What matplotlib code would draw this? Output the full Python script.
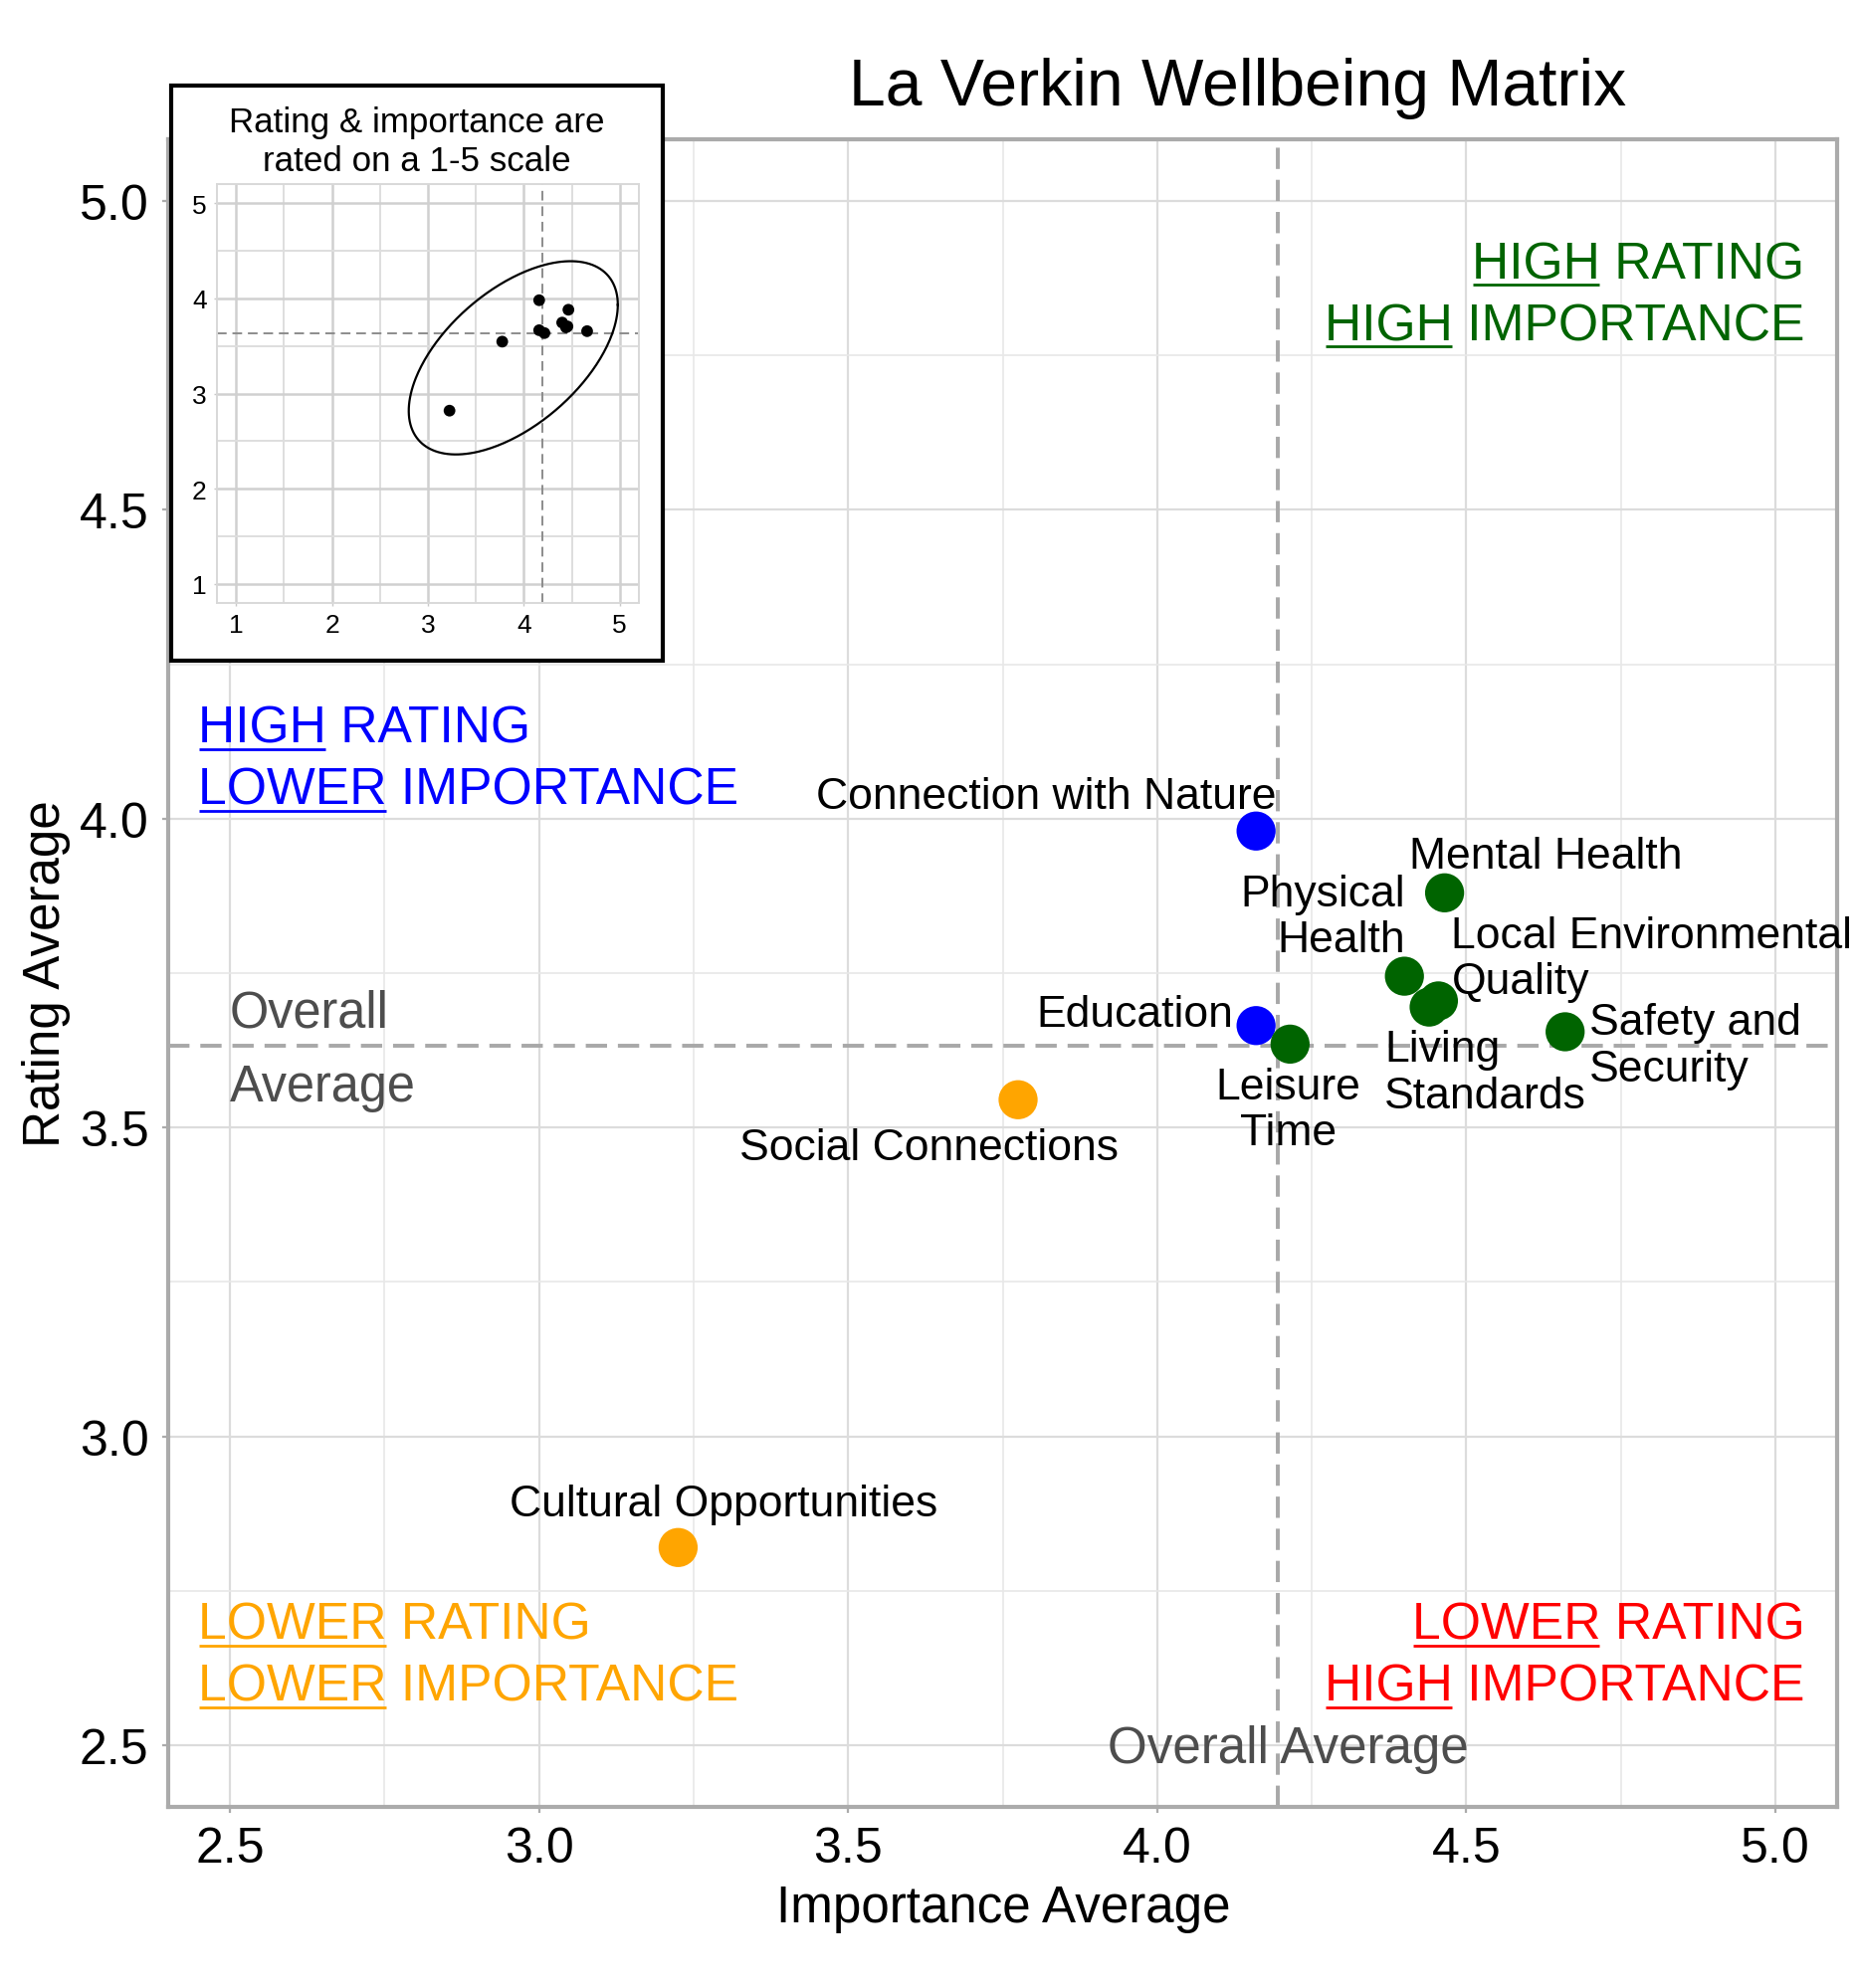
import numpy as np
import matplotlib
matplotlib.use("Agg")
import matplotlib.pyplot as plt
from matplotlib.patches import Rectangle
from matplotlib.ticker import MultipleLocator, FormatStrFormatter

plt.rcParams['font.family'] = ['Liberation Sans', 'DejaVu Sans']

# ---------------- data ----------------
categories = ["Connection with Nature", "Mental Health", "Physical\nHealth",
              "Local Environmental\nQuality", "Living\nStandards", "Education",
              "Leisure\nTime", "Safety and\nSecurity", "Social Connections",
              "Cultural Opportunities"]
importance = [4.16, 4.465, 4.40, 4.455, 4.44, 4.16, 4.215, 4.66, 3.775, 3.225]
rating = [3.98, 3.88, 3.745, 3.705, 3.695, 3.665, 3.635, 3.655, 3.545, 2.82]

main_ticks = [2.5, 3.0, 3.5, 4.0, 4.5, 5.0]
inset_ticks = [1, 2, 3, 4, 5]

# ellipse (centre and shape matrix, data units)
ellipse_center = [3.89, 3.375]
ellipse_shape = [[1.188, 0.607], [0.607, 1.030]]

quad_colors = {"HH": "#006400", "HL": "#0000FF", "LL": "#FFA500", "LH": "#FF0000"}

# ---------------- figure ----------------
W, H, DPI = 1866, 1999, 200
fig = plt.figure(figsize=(W / DPI, H / DPI), dpi=DPI)
fig.patch.set_facecolor("white")

x = np.array(importance)
y = np.array(rating)
avg_x = x.mean()
avg_y = y.mean()

def quad(xi, yi):
    return ("H" if yi >= avg_y else "L") + ("H" if xi >= avg_x else "L")

colors = [quad_colors[quad(a, b)] for a, b in zip(x, y)]

ax = fig.add_axes([169 / W, 1 - 1817 / H, (1846 - 169) / W, (1817 - 141) / H])
ax.set_xlim(2.4, 5.1)
ax.set_ylim(2.4, 5.1)
ax.set_xticks(main_ticks)
ax.set_yticks(main_ticks)
ax.xaxis.set_minor_locator(MultipleLocator(0.25))
ax.yaxis.set_minor_locator(MultipleLocator(0.25))
ax.xaxis.set_major_formatter(FormatStrFormatter("%.1f"))
ax.yaxis.set_major_formatter(FormatStrFormatter("%.1f"))
ax.grid(which="major", color="#DCDCDC", lw=0.8)
ax.grid(which="minor", color="#E8E8E8", lw=0.6)
ax.set_axisbelow(True)
for s in ax.spines.values():
    s.set_color("#ABABAB")
    s.set_linewidth(1.5)
ax.tick_params(which="major", length=2, width=0.8, color="#ABABAB",
               labelsize=18, pad=5, labelcolor="black")
ax.tick_params(which="minor", length=0)

dash_kw = dict(color="#A8A8A8", lw=1.4, dashes=(5.5, 2.8))
ax.axvline(avg_x, **dash_kw, zorder=1.5)
ax.axhline(avg_y, **dash_kw, zorder=1.5)

ax.scatter(x, y, s=200, c=colors, edgecolors="none", zorder=3)

# label placement (offsets in points, alignment)
label_layout = [
    ((-76, 12.6), "center"),
    ((36.7, 13.4), "center"),
    ((0.4, 21.5), "right"),
    ((4.7, 15.3), "left"),
    ((-16.2, -23.7), "left"),
    ((-8.3, 4.0), "right"),
    ((-0.7, -23.8), "center"),
    ((8.6, -5.0), "left"),
    ((-32.4, -17.4), "center"),
    ((16.6, 15.6), "center"),
]
for lab, xi, yi, (off, ha) in zip(categories, x, y, label_layout):
    ax.annotate(lab, xy=(xi, yi), xytext=off, textcoords="offset points",
                ha=ha, va="center", multialignment=ha, fontsize=16,
                linespacing=1.18, color="black", zorder=4)

# overall average texts
grey_txt = "#4D4D4D"
ax.text(2.5, avg_y + 0.031, "Overall", ha="left", va="baseline",
        fontsize=18.2, color=grey_txt)
ax.text(2.5, avg_y - 0.089, "Average", ha="left", va="baseline",
        fontsize=18.2, color=grey_txt)
ax.text(avg_x + 0.017, 2.472, "Overall Average", ha="center", va="baseline",
        fontsize=18.4, color=grey_txt)

# quadrant labels with underlined first word
fig.canvas.draw()
renderer = fig.canvas.get_renderer()
QFS = 18.6
quad_lines = [
    ("HIGH", "RATING", 5.0475, 4.876, "right", quad_colors["HH"]),
    ("HIGH", "IMPORTANCE", 5.0475, 4.776, "right", quad_colors["HH"]),
    ("HIGH", "RATING", 2.449, 4.124, "left", quad_colors["HL"]),
    ("LOWER", "IMPORTANCE", 2.449, 4.024, "left", quad_colors["HL"]),
    ("LOWER", "RATING", 2.449, 2.673, "left", quad_colors["LL"]),
    ("LOWER", "IMPORTANCE", 2.449, 2.573, "left", quad_colors["LL"]),
    ("LOWER", "RATING", 5.0475, 2.673, "right", quad_colors["LH"]),
    ("HIGH", "IMPORTANCE", 5.0475, 2.573, "right", quad_colors["LH"]),
]
for w1, rest, qx, qy, ha, col in quad_lines:
    t = ax.text(qx, qy, f"{w1} {rest}", ha=ha, va="baseline", fontsize=QFS,
                color=col, zorder=4)
    bb = t.get_window_extent(renderer)
    tw = ax.text(qx, qy, w1, ha="left", va="baseline", fontsize=QFS)
    wbb = tw.get_window_extent(renderer)
    tw.remove()
    base_px = ax.transData.transform((qx, qy))[1]
    ypx = base_px - 7
    inv = ax.transData.inverted()
    p0 = inv.transform((bb.x0 + 1, ypx))
    p1 = inv.transform((bb.x0 + wbb.width - 1, ypx))
    ax.plot([p0[0], p1[0]], [p0[1], p1[1]], color=col, lw=1.0,
            solid_capstyle="butt", clip_on=False, zorder=4)

# titles
fig.text(1244 / W, 1 - 106 / H, "La Verkin Wellbeing Matrix", ha="center",
         va="baseline", fontsize=23.8, color="black")
fig.text(1008 / W, 1 - 1932 / H, "Importance Average", ha="center",
         va="baseline", fontsize=18.4, color="black")
fig.text(60 / W, 1 - 979 / H, "Rating Average", ha="center", va="baseline",
         rotation=90, rotation_mode="anchor", fontsize=18.4, color="black")

# ---------------- inset ----------------
box = Rectangle((172 / W, 1 - 665 / H), 494 / W, 578 / H, transform=fig.transFigure,
                facecolor="white", edgecolor="black", lw=1.5, zorder=5)
fig.patches.append(box)

fig.text(419 / W, 1 - 143 / H, "Rating & importance are\nrated on a 1-5 scale",
         ha="center", va="center", fontsize=12.6, linespacing=1.22, zorder=7)

iax = fig.add_axes([218 / W, 1 - 607 / H, 424 / W, 421 / H], zorder=6)
iax.set_xlim(0.8, 5.2)
iax.set_ylim(0.8, 5.2)
iax.set_xticks(inset_ticks)
iax.set_yticks(inset_ticks)
iax.xaxis.set_minor_locator(MultipleLocator(0.5))
iax.yaxis.set_minor_locator(MultipleLocator(0.5))
iax.grid(which="major", color="#D0D0D0", lw=0.9)
iax.grid(which="minor", color="#DEDEDE", lw=0.7)
iax.set_axisbelow(True)
for s in iax.spines.values():
    s.set_color("#D8D8D8")
    s.set_linewidth(0.7)
iax.tick_params(which="major", length=1.2, width=0.5, color="#C8C8C8",
                labelsize=9.5, pad=2.5)
iax.tick_params(which="minor", length=0)

idash = dict(color="#8C8C8C", lw=0.7, dashes=(5, 3))
iax.axvline(avg_x, **idash)
iax.axhline(avg_y, **idash)
iax.scatter(x, y, s=18, c="black", edgecolors="none", zorder=3)

tt = np.linspace(0, 2 * np.pi, 300)
L = np.linalg.cholesky(np.array(ellipse_shape))
pts = np.array(ellipse_center)[:, None] + L @ np.vstack([np.cos(tt), np.sin(tt)])
iax.plot(pts[0], pts[1], color="black", lw=0.8, zorder=2)

fig.savefig("out.png", dpi=DPI)
